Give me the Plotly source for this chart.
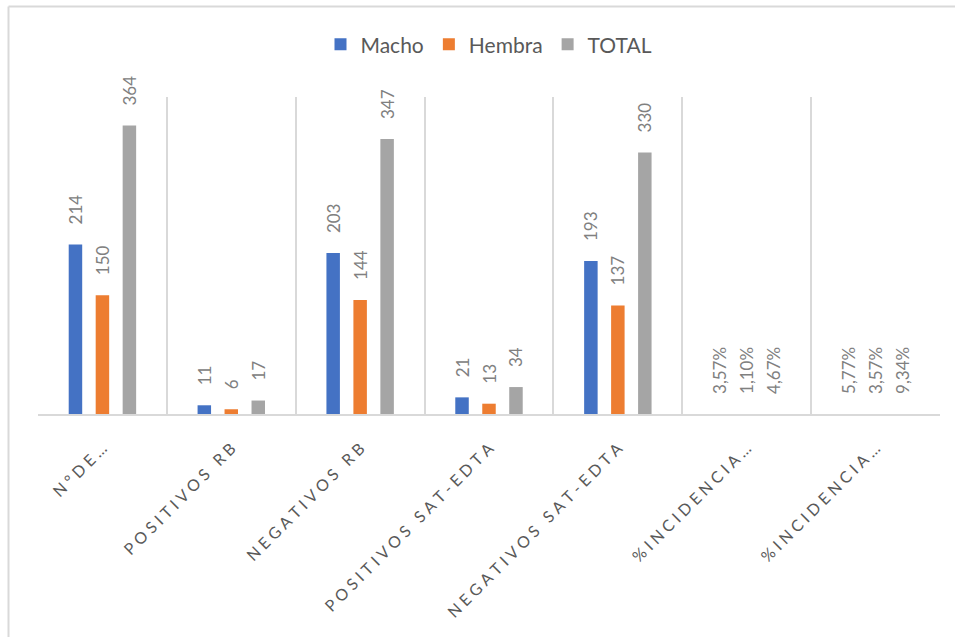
import plotly.graph_objects as go

categories = ["N°DE…", "POSITIVOS RB", "NEGATIVOS RB", "POSITIVOS SAT-EDTA",
              "NEGATIVOS SAT-EDTA", "%INCIDENCIA…", "%INCIDENCIA…"]
macho = [214, 11, 203, 21, 193, 0.0357, 0.0577]
hembra = [150, 6, 144, 13, 137, 0.0110, 0.0357]
total = [364, 17, 347, 34, 330, 0.0467, 0.0934]
series_names = ["Macho", "Hembra", "TOTAL"]
colors = ["#4472C4", "#ED7D31", "#A5A5A5"]


def fmt(v):
    if v < 1:
        return f"{v*100:.2f}%".replace(".", ",")
    return str(int(v))


def spaced(s):
    return "\u2005".join(list(s))


# unique x keys so the two identical "%INCIDENCIA…" categories stay separate
xkeys = [f"c{i}" for i in range(len(categories))]
ticktext = [spaced(c) for c in categories]

fig = go.Figure()
for name, vals, col in zip(series_names, [macho, hembra, total], colors):
    # fractional (percentage) bars are sub-pixel in the original: keep them unseen
    point_colors = [col if v >= 1 else "rgba(0,0,0,0)" for v in vals]
    fig.add_trace(go.Bar(
        x=xkeys, y=vals, name=name, marker=dict(color=point_colors, line_width=0),
        text=["\u2002\u2002" + fmt(v) for v in vals], textposition="outside", textangle=-90,
        constraintext="none",
        textfont=dict(family="Lato", size=17, color="#808080"),
        cliponaxis=False,
    ))

L, R, T, B = 38, 15, 97, 223
W, H = 955, 637
pw = W - L - R
ph = H - T - B
bx = (8.5 - L) / pw
by = (H - B - 6.5) / ph

fig.update_layout(
    width=W, height=H,
    margin=dict(l=L, r=R, t=T, b=B),
    paper_bgcolor="white", plot_bgcolor="white",
    barmode="group", bargap=0.372, bargroupgap=0.5,
    showlegend=True,
    legend=dict(orientation="h", x=0.5, xanchor="center", y=1.165, yanchor="middle",
                font=dict(family="Lato", size=21, color="#595959"),
                itemwidth=30, traceorder="normal"),
    xaxis=dict(type="category", tickmode="array", tickvals=xkeys, ticktext=ticktext,
               tickson="boundaries", showgrid=True, gridcolor="#D9D9D9", gridwidth=1.5,
               showline=True, linecolor="#D9D9D9", linewidth=2, ticks="",
               tickangle=-45, tickfont=dict(family="Lato", size=16, color="#595959"),
               ticklabelstandoff=17, range=[-0.5, 6.5]),
    yaxis=dict(range=[0, 400], visible=False, showgrid=False),
    shapes=[
        dict(type="line", xref="paper", yref="paper", x0=bx, x1=bx, y0=-1, y1=by,
             line=dict(color="#D9D9D9", width=2)),
        dict(type="line", xref="paper", yref="paper", x0=bx, x1=1.1, y0=by, y1=by,
             line=dict(color="#D9D9D9", width=2)),
    ],
)

fig.write_html("out.html")
